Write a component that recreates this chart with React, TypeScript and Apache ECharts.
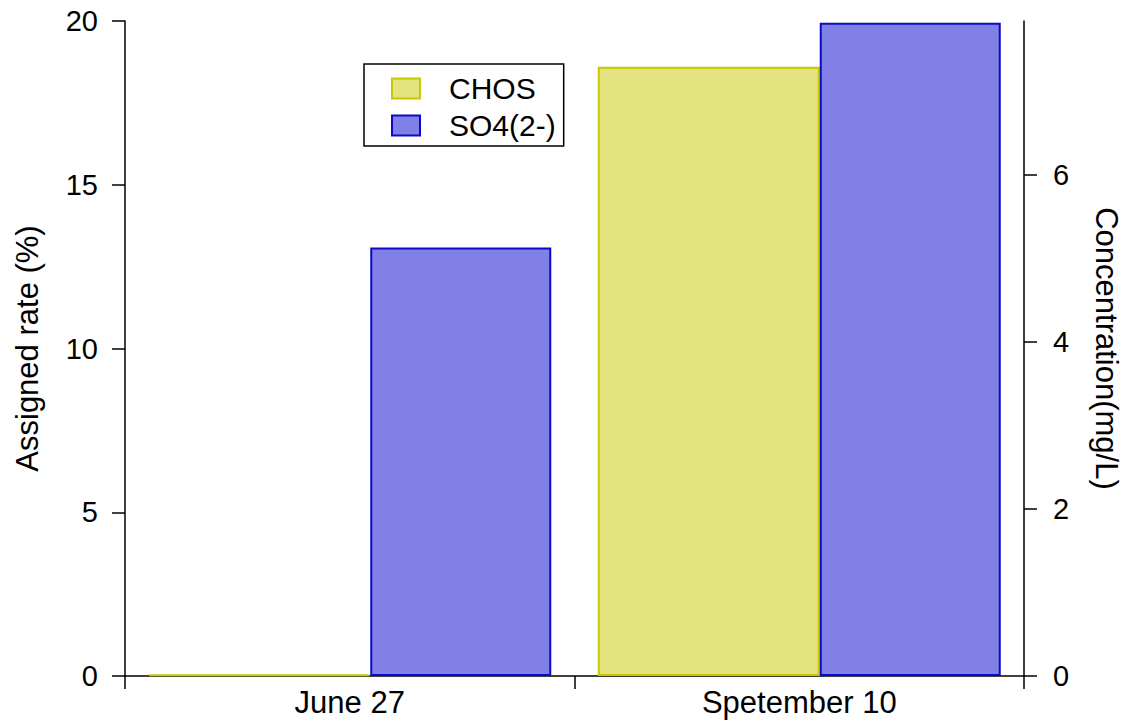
import React, { useEffect, useRef } from "react";
import * as echarts from "echarts";

// Sampling dates on the category axis
const categories: string[] = ["June 27", "Spetember 10"];
// Share of formulas assigned as CHOS (%), left axis
const chosRate: number[] = [0.05, 18.6];
// Sulfate concentration (mg/L), right axis
const so4Conc: number[] = [5.13, 7.82];
// Axis ticks
const leftTicks: number[] = [0, 5, 10, 15, 20];
const rightTicks: number[] = [0, 2, 4, 6];

const FONT = "'Liberation Sans', Arial, sans-serif";

export default function App() {
  const ref = useRef<HTMLDivElement>(null);

  useEffect(() => {
    if (!ref.current) return;
    const chart = echarts.init(ref.current, undefined, { renderer: "svg" });
    const axisCommon = {
      axisLine: { show: true, lineStyle: { color: "#000", width: 1.5 } },
      axisTick: { show: true, length: 13, lineStyle: { color: "#000", width: 1.5 } },
      splitLine: { show: false },
    };
    chart.setOption({
      animation: false,
      backgroundColor: "#fff",
      textStyle: { fontFamily: FONT },
      grid: { left: 125, right: 104, top: 21, bottom: 51, containLabel: false },
      legend: {
        orient: "vertical",
        left: 364,
        top: 64,
        padding: [9.5, 8, 5.5, 27],
        itemWidth: 28,
        itemHeight: 20,
        itemGap: 7,
        borderColor: "#000",
        borderWidth: 1.5,
        borderRadius: 0,
        icon: "rect",
        textStyle: { fontSize: 30, color: "#000", fontFamily: FONT, padding: [0, 0, 0, 24] },
        data: ["CHOS", "SO4(2-)"],
      },
      xAxis: {
        type: "category",
        data: categories,
        boundaryGap: true,
        ...axisCommon,
        axisTick: { show: true, length: 13, alignWithLabel: false, lineStyle: { color: "#000", width: 1.5 } },
        axisLabel: { fontSize: 31, color: "#000", fontFamily: FONT, margin: 11 },
      },
      yAxis: [
        {
          type: "value",
          position: "left",
          min: 0,
          max: 20,
          interval: 5,
          name: "Assigned rate (%)",
          nameLocation: "middle",
          nameGap: 82,
          nameRotate: 90,
          nameTextStyle: { fontSize: 31, color: "#000", fontFamily: FONT },
          ...axisCommon,
          axisTick: { show: true, length: 13, customValues: leftTicks, lineStyle: { color: "#000", width: 1.5 } },
          axisLabel: { fontSize: 29, color: "#000", fontFamily: FONT, margin: 27, customValues: leftTicks },
        },
        {
          type: "value",
          position: "right",
          min: 0,
          max: 7.84,
          interval: 2,
          name: "Concentration(mg/L)",
          nameLocation: "middle",
          nameGap: 67,
          nameRotate: -90,
          nameTextStyle: { fontSize: 31, color: "#000", fontFamily: FONT },
          ...axisCommon,
          axisTick: { show: true, length: 13, customValues: rightTicks, lineStyle: { color: "#000", width: 1.5 } },
          axisLabel: { fontSize: 29, color: "#000", fontFamily: FONT, margin: 29, customValues: rightTicks },
        },
      ],
      series: [
        {
          name: "CHOS",
          type: "bar",
          yAxisIndex: 0,
          data: chosRate,
          barWidth: 222,
          barGap: "0%",
          itemStyle: { color: "#e3e47f", borderColor: "#c8c800", borderWidth: 2 },
        },
        {
          name: "SO4(2-)",
          type: "bar",
          yAxisIndex: 1,
          data: so4Conc,
          barWidth: 181,
          barGap: "0%",
          itemStyle: { color: "#8080e6", borderColor: "#0a0acc", borderWidth: 2 },
        },
      ],
    });
    return () => chart.dispose();
  }, []);

  return <div ref={ref} style={{ width: 1130, height: 727, position: "absolute", left: 0, top: 0 }} />;
}
